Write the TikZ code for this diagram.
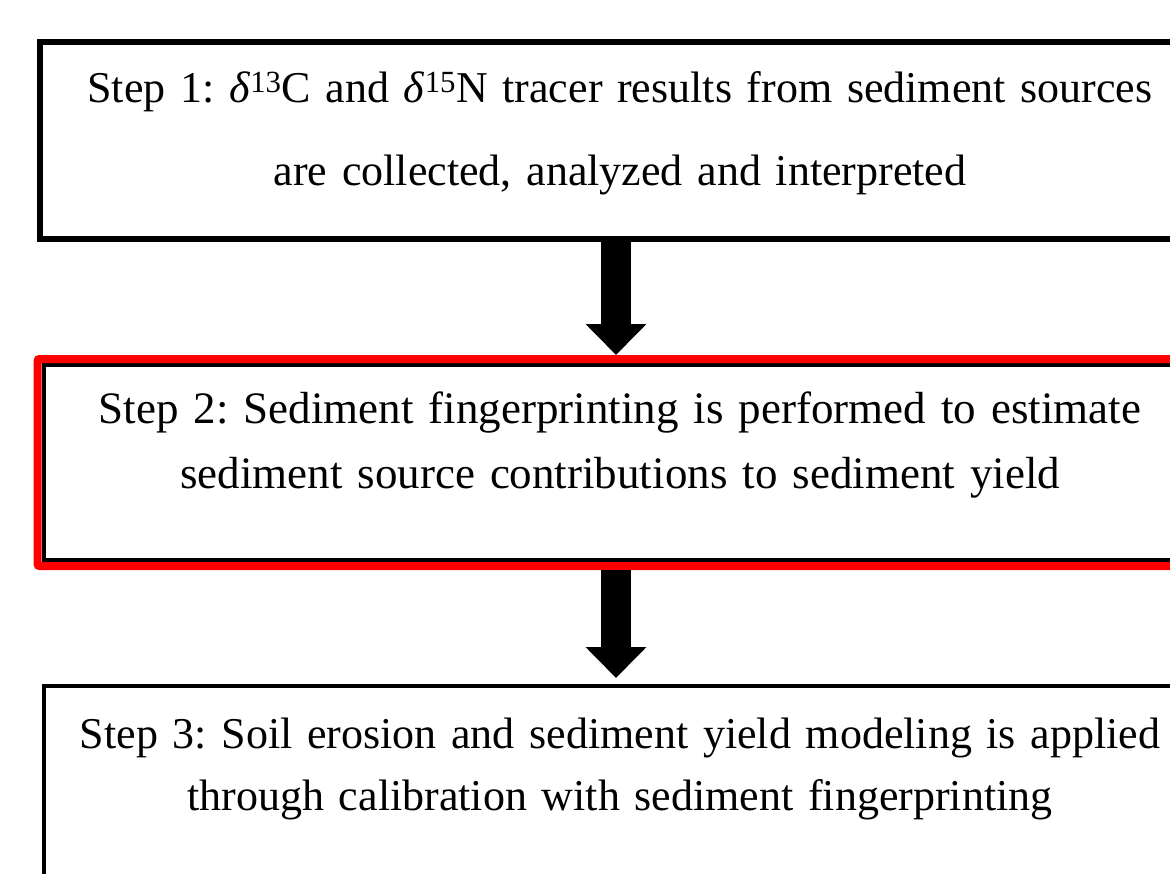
\documentclass[tikz,border=0pt]{standalone}
\usepackage{fontspec}
\setmainfont{Liberation Serif}
\frenchspacing
\usetikzlibrary{arrows.meta,fit}
\definecolor{hlred}{RGB}{255,0,0}
\tikzset{
  % step boxes
  stepbox/.style   = {draw=black, line width=4pt, fill=white, inner sep=0pt,
                      outer sep=0pt, anchor=north west, align=center},
  % red highlight frame
  hlframe/.style   = {draw=hlred, line width=8pt, rounded corners=2pt, inner sep=6pt},
  % thick down arrows
  flowarrow/.style = {-{Triangle[width=59pt,length=31pt]}, line width=30pt, black},
}

\begin{document}
\begin{tikzpicture}[x=1pt, y=-1pt]
  \useasboundingbox (0,0) rectangle (1170,873);
  \fill[white] (0,0) rectangle (1170,873);
  \clip (0,0) rectangle (1170,873);
  % Step 1
  \node[stepbox, line width=5.5pt, text width=1160pt, text height=60pt, text depth=137pt,
        font=\fontsize{44}{83}\selectfont\frenchspacing] (s1) at (40,42)
    {Step 1: \textit{δ}\textsuperscript{13}C and \textit{δ}\textsuperscript{15}N tracer results from sediment sources\\
     are collected, analyzed and interpreted};
  % Step 2
  \node[stepbox, text width=1153pt, text height=58pt, text depth=137pt,
        font=\fontsize{45}{65}\selectfont\frenchspacing] (s2) at (43.5,365)
    {Step 2: Sediment fingerprinting is performed to estimate\\
     sediment source contributions to sediment yield};
  \node[hlframe, fit=(s2)] (hl) {};
  % Step 3
  \node[stepbox, text width=1153pt, text height=62pt, text depth=200pt,
        font=\fontsize{44}{62}\selectfont\frenchspacing] (s3) at (43.5,686)
    {Step 3: Soil erosion and sediment yield modeling is applied\\
     through calibration with sediment fingerprinting};
  % arrows
  \coordinate (ax) at (616,0);
  \draw[flowarrow] (s1.south -| ax) -- (hl.north -| ax);
  \draw[flowarrow, shorten >=8pt] (hl.south -| ax) -- (s3.north -| ax);
\end{tikzpicture}
\end{document}
